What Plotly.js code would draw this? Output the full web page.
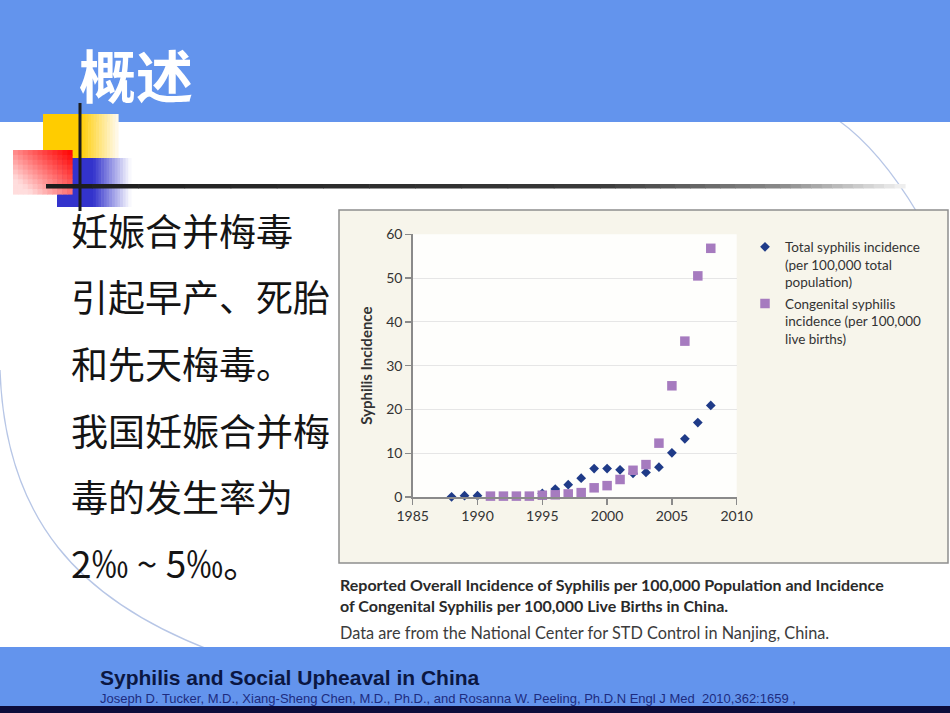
<!DOCTYPE html>
<html>
<head>
<meta charset="utf-8">
<script src="https://cdn.plot.ly/plotly-3.0.1.min.js"></script>
<style>
html,body{margin:0;padding:0;background:#fff;}
#chart{width:950px;height:713px;}
</style>
</head>
<body>
<div id="chart"></div>
<script>
// ---- data ----
const years = [1988,1989,1990,1991,1992,1993,1994,1995,1996,1997,1998,1999,2000,2001,2002,2003,2004,2005,2006,2007,2008];
const totalIncidence = [0.05,0.3,0.3,null,null,null,null,0.8,1.8,2.8,4.3,6.5,6.5,6.2,5.4,5.6,6.8,10.1,13.3,17.0,20.9];
const congenitalIncidence = [null,null,null,0.2,0.2,0.2,0.2,0.4,0.5,0.7,1.0,2.1,2.6,4.0,6.1,7.4,12.3,25.4,35.6,50.5,56.8];
const xTicks = [1985,1990,1995,2000,2005,2010];
const yTicks = [0,10,20,30,40,50,60];
const totalName = 'Total syphilis incidence<br>(per 100,000 total<br>population)';
const congenitalName = 'Congenital syphilis<br>incidence (per 100,000<br>live births)';
const yTitle = 'Syphilis Incidence';
const slideTitle = '概述';
const bodyLines = ['妊娠合并梅毒','引起早产、死胎','和先天梅毒。','我国妊娠合并梅','毒的发生率为','2‰ ~ 5‰。'];
const captionBold = ['Reported Overall Incidence of Syphilis per 100,000 Population and Incidence','of Congenital Syphilis per 100,000 Live Births in China.'];
const captionNote = 'Data are from the National Center for STD Control in Nanjing, China.';
const footerTitle = 'Syphilis and Social Upheaval in China';
const footerCite = 'Joseph D. Tucker, M.D., Xiang-Sheng Chen, M.D., Ph.D., and Rosanna W. Peeling, Ph.D.N Engl J Med&nbsp;&nbsp;2010,362:1659 ,';

// ---- helpers (pixel -> paper) ----
const W = 950, H = 713;
const X = px => px / W;
const Y = py => 1 - py / H;
function hex2rgb(h){h=h.replace('#','');if(h.length===3)h=h.split('').map(c=>c+c).join('');return [parseInt(h.slice(0,2),16),parseInt(h.slice(2,4),16),parseInt(h.slice(4,6),16)];}
function mix(a,b,t){const A=hex2rgb(a),B=hex2rgb(b);return 'rgb('+A.map((v,i)=>Math.round(v+(B[i]-v)*t)).join(',')+')';}
const shapes = [];
function rect(x0,y0,x1,y1,fill,line){
  shapes.push({type:'rect',xref:'paper',yref:'paper',x0:X(x0),x1:X(x1),y0:Y(y1),y1:Y(y0),
    fillcolor:fill,line:line||{width:0},layer:'below'});
}
function hgrad(x0,y0,x1,y1,c0,c1,solidTo,n){
  rect(x0,y0,solidTo,y1,c0);
  const w=(x1-solidTo)/n;
  for(let i=0;i<n;i++){rect(solidTo+i*w,y0,solidTo+(i+1)*w+0.6,y1,mix(c0,c1,(i+0.5)/n));}
}
function path(pts,color,width){
  let d='';
  pts.forEach(p=>{d+=p[0];for(let i=1;i<p.length;i+=2){d+=X(p[i]).toFixed(5)+','+Y(p[i+1]).toFixed(5)+' ';}});
  shapes.push({type:'path',xref:'paper',yref:'paper',path:d,line:{color:color,width:width},layer:'below'});
}

// decorative arcs
path([['M',0,370],['C',5,520,80,600,210,650]],'#b7c6e6',1.3);
path([['M',838,120],['Q',880,150,918,214]],'#b7c6e6',1.3);

// bands
rect(0,0,950,122,'#6394ed');
rect(0,647,950,706,'#6394ed');
rect(0,706,950,713,'#0c0c3a');

// gradient squares
hgrad(43,114,118,160,'#ffcc00','#fffaf0',80,14);
hgrad(57,158,131,207,'#3333cc','#ffffff',93,14);
// red square: 2D fade from top-right
(function(){
  const x0=13,y0=150,x1=72,y1=194,nx=12,ny=9;
  const cw=(x1-x0)/nx,ch=(y1-y0)/ny;
  for(let i=0;i<nx;i++)for(let j=0;j<ny;j++){
    const tx=1-(i+0.5)/nx, ty=(j+0.5)/ny;
    const t=Math.min(1,Math.pow((tx*0.65+ty*0.55),1.1));
    rect(x0+i*cw,y0+j*ch,x0+(i+1)*cw+0.6,y0+(j+1)*ch+0.6,mix('#ff0000','#fff0f0',t*0.92));
  }
})();
// cross lines
shapes.push({type:'line',xref:'paper',yref:'paper',x0:X(80),x1:X(80),y0:Y(103),y1:Y(211),line:{color:'#1c1c1c',width:3},layer:'below'});
(function(){
  const stops=[[46,'#1c1c1c'],[600,'#3a3a3a'],[780,'#8a8a8a'],[905,'#f2f2f2']];
  for(let s=0;s<stops.length-1;s++){
    const [a,ca]=stops[s],[b,cb]=stops[s+1];const n=12;const w=(b-a)/n;
    for(let i=0;i<n;i++){rect(a+i*w,184,a+(i+1)*w+0.6,188.5,mix(ca,cb,(i+0.5)/n));}
  }
})();

// chart box
rect(339,210,948,563,'#f7f5eb',{color:'#8e8e8e',width:1.5});
// white plot area (subplot layer, above paper shapes, below grid)
shapes.push({type:'rect',xref:'x domain',yref:'y domain',x0:0,x1:1,y0:0,y1:1,fillcolor:'#fefefc',line:{width:0},layer:'below'});

// ---- annotations ----
const annotations = [];
function txt(text,x,y,size,color,family,weight,anchor){
  annotations.push({text:text,xref:'paper',yref:'paper',x:X(x),y:Y(y),xanchor:anchor||'left',yanchor:'middle',
    showarrow:false,font:{size:size,color:color,family:family,weight:weight||'normal'},borderpad:0});
}
txt(slideTitle,78,73,57,'#ffffff','Noto Sans CJK SC','bold');
const bodyY=[230,296,363,430,496,562];
bodyLines.forEach((l,i)=>txt(l,70,bodyY[i],37,'#141414','Noto Sans CJK SC','normal'));
txt(captionBold[0],339,584,16,'#2a2a2a','Lato','bold');
txt(captionBold[1],339,605,16,'#2a2a2a','Lato','bold');
txt(captionNote,339,632,16.3,'#3c3c3c','Lato','normal');
txt(footerTitle,99,677,21,'#0b1742','Liberation Sans','bold');
txt(footerCite,99,698,13,'#1d2c80','Liberation Sans','normal');

// ---- traces ----
const traces = [
  {type:'scatter',mode:'markers',x:years,y:totalIncidence,name:totalName,legendgroup:'a',
   marker:{symbol:'diamond',size:7.5,color:'#1f3b88'},cliponaxis:false},
  {type:'scatter',mode:'markers',x:years,y:congenitalIncidence,name:congenitalName,legendgroup:'b',
   marker:{symbol:'square',size:9.5,color:'#a67bbf'},cliponaxis:false}
];

const layout = {
  width:W,height:H,margin:{l:0,r:0,t:0,b:0},
  paper_bgcolor:'#ffffff',plot_bgcolor:'rgba(0,0,0,0)',
  showlegend:true,hovermode:false,
  xaxis:{domain:[X(412.7),X(736.7)],range:[1985,2010],tickvals:xTicks,ticks:'outside',ticklen:6,
    tickcolor:'#8a8a8a',tickwidth:1.3,showline:true,linecolor:'#8a8a8a',linewidth:1.5,showgrid:false,zeroline:false,
    tickfont:{family:'Lato',size:14,color:'#333'},fixedrange:true},
  yaxis:{domain:[Y(497),Y(234.3)],range:[0,60],tickvals:yTicks,ticks:'outside',ticklen:6,
    tickcolor:'#8a8a8a',tickwidth:1.3,showline:true,linecolor:'#8a8a8a',linewidth:1.5,
    showgrid:true,gridcolor:'#e6e6e6',gridwidth:1,zeroline:false,
    tickfont:{family:'Lato',size:14,color:'#333'},fixedrange:true,
    title:{text:yTitle,font:{family:'Lato',size:15,color:'#333',weight:'bold'},standoff:10}},
  legend:{x:X(745),y:Y(231.5),xanchor:'left',yanchor:'top',bgcolor:'rgba(0,0,0,0)',
    font:{family:'Lato',size:13.5,color:'#333'},valign:'top',traceorder:'grouped',tracegroupgap:1},
  shapes:shapes,annotations:annotations
};

Plotly.newPlot('chart',traces,layout,{staticPlot:true,displayModeBar:false});
</script>
</body>
</html>
